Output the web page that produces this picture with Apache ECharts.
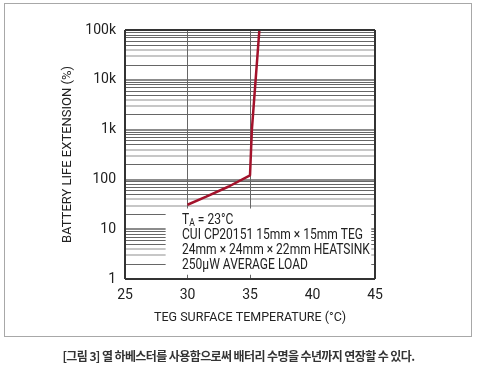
<!DOCTYPE html>
<html><head><meta charset="utf-8">
<script src="https://cdn.jsdelivr.net/npm/echarts@6/dist/echarts.min.js"></script>
<style>
html,body{margin:0;padding:0;background:#fff;}
#frame{position:absolute;left:4px;top:3px;width:468px;height:334px;border:1px solid #a8a8a8;box-sizing:border-box;}
#chart{position:absolute;left:0;top:0;width:487px;height:374px;}
#cap{position:absolute;left:0;width:477px;top:347px;text-align:center;font-family:"Noto Sans CJK KR",sans-serif;font-size:12px;font-weight:bold;color:#333;letter-spacing:-0.6px;}
</style></head>
<body>
<div id="frame"></div>
<div id="chart"></div>
<div id="cap">[그림 3] 열 하베스터를 사용함으로써 배터리 수명을 수년까지 연장할 수 있다.</div>
<script>
// Data
const temps = [30, 31.5, 33.3, 35, 35.15, 35.45, 35.75];
const lifeExt = [31, 45, 72, 120, 1000, 10000, 100000];
const yTickLabels = {1:'1',10:'10',100:'100',1000:'1k',10000:'10k',100000:'100k'};
const vGridTemps = [30, 35];
const minorDark = [2,5,6,7,8,9];
const minorLight = [3,4];
const decades = [1,10,100,1000,10000];
const noteLines = ['{t|T}{s|A}{t| = 23°C}', 'CUI CP20151 15mm × 15mm TEG', '24mm × 24mm × 22mm HEATSINK', '250µW AVERAGE LOAD'];

const font = 'Roboto,"Liberation Sans",sans-serif';
function minorVals(ms){const a=[];decades.forEach(d=>ms.forEach(m=>a.push({yAxis:m*d})));return a;}

const chart = echarts.init(document.getElementById('chart'));
chart.setOption({
  animation:false,
  grid:{left:125,right:112,top:30,bottom:95},
  xAxis:{type:'value',min:25,max:45,interval:5,
    axisLine:{show:false},axisTick:{show:false},splitLine:{show:false},
    axisLabel:{color:'#222',fontFamily:font,fontSize:14,margin:9},
    name:'TEG SURFACE TEMPERATURE (°C)',nameLocation:'middle',nameGap:32,
    nameTextStyle:{color:'#222',fontFamily:font,fontSize:12.5}},
  yAxis:{type:'log',logBase:10,min:1,max:100000,
    axisLine:{show:false},axisTick:{show:false},
    splitLine:{show:true,lineStyle:{color:'#8c8c8c',width:2}},
    axisLabel:{color:'#222',fontFamily:font,fontSize:14,margin:9,formatter:v=>yTickLabels[Math.round(v)]||''},
    name:'BATTERY LIFE EXTENSION (%)',nameLocation:'middle',nameGap:44,
    nameTextStyle:{color:'#222',fontFamily:font,fontSize:13}},
  series:[
    {type:'line',data:[[25,1]],z:1,silent:true,symbol:'none',lineStyle:{opacity:0},
     markLine:{z:1,silent:true,symbol:'none',label:{show:false},animation:false,
       data:[].concat(
         minorVals(minorDark).map(o=>Object.assign(o,{lineStyle:{color:'#666',width:1,type:'solid'}})),
         minorVals(minorLight).map(o=>Object.assign(o,{lineStyle:{color:'#b4b4b4',width:1.5,type:'solid'}})),
         vGridTemps.map(t=>({xAxis:t,lineStyle:{color:'#666',width:1,type:'solid'}}))
       )}},
    {type:'line',data:[[25,1]],z:2,silent:true,symbol:'none',lineStyle:{opacity:0},
     markArea:{z:3,silent:true,itemStyle:{color:'#fff',opacity:1},label:{show:false},
       data:[[{coord:[28.25,1.22]},{coord:[44.7,26]}]]}},
    {type:'line',z:5,symbol:'none',data:temps.map((t,i)=>[t,lifeExt[i]]),
     lineStyle:{color:'#a3122b',width:2.5},
     markLine:{z:6,silent:true,symbol:'none',label:{show:false},
       data:[[{coord:[25,1]},{coord:[45,1]}],[{coord:[45,1]},{coord:[45,100000]}],[{coord:[45,100000]},{coord:[25,100000]}],[{coord:[25,100000]},{coord:[25,1]}]],
       lineStyle:{color:'#333',width:2,type:'solid'}}}
  ],
  graphic:[{type:'text',left:182,top:213,z:100,scaleX:0.86,
    style:{text:noteLines.join('\n'),fontFamily:font,fontSize:14,lineHeight:15,fill:'#222',
      rich:{t:{fontFamily:font,fontSize:14,fill:'#222',lineHeight:15},s:{fontFamily:font,fontSize:10,fill:'#222',padding:[6,0,0,0]}}}}]
});
</script>
</body></html>
